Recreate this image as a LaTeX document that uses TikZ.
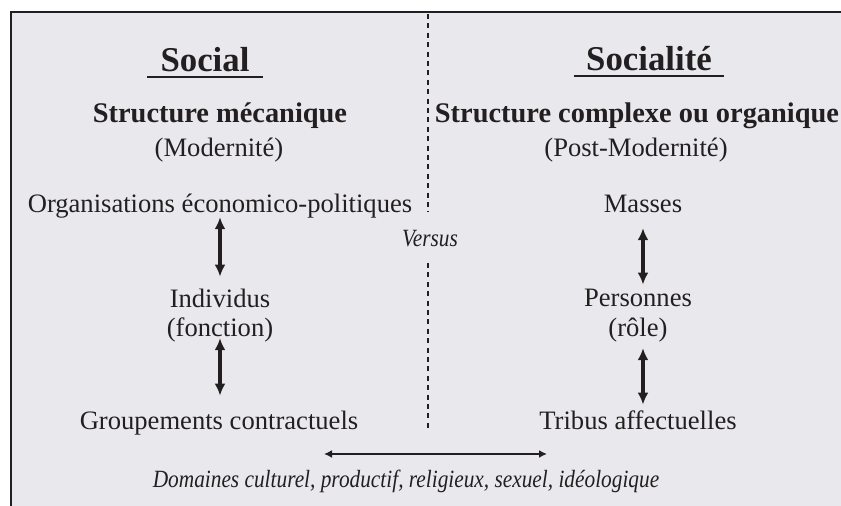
\documentclass[tikz,border=0pt]{standalone}
\usepackage{fontspec}
\setmainfont{Liberation Serif}
\newfontface\narrowit{Liberation Serif Italic}[FakeStretch=0.86]
\usetikzlibrary{arrows.meta}

\definecolor{panelgray}{RGB}{233,233,237}
\definecolor{ink}{RGB}{35,31,32}
\tikzset{schema/.style={x=0.5pt,y=0.5pt,text=ink},
  txt/.style={font=\fontsize{13.3}{16}\selectfont,inner sep=0pt,text height=9pt,text depth=2.9pt,anchor=base},
  head/.style={font=\bfseries\fontsize{14.2}{17}\selectfont,inner sep=0pt,anchor=base},
  title/.style={font=\bfseries\fontsize{17.4}{20}\selectfont,inner sep=0pt,anchor=base},
  ital/.style={font=\narrowit\fontsize{12.4}{15}\selectfont,inner sep=0pt,anchor=base},
  link/.style={{Latex[length=6pt,width=5.5pt]}-{Latex[length=6pt,width=5.5pt]},line width=1.6pt,ink},
  divider/.style={ink,line width=0.9pt,dash pattern=on 2.5pt off 2.2pt}}

\begin{document}
\begin{tikzpicture}[schema]
    \useasboundingbox (0,0) rectangle (841,506);
    \fill[panelgray] (11,0) rectangle (841,494);
    \draw[ink,line width=1.1pt] (11,0) -- (11,494) -- (841,494); % left and top border
    % column titles
    \node[title] (social) at (205,434) {Social};
    \node[title] (socialite) at (649,435) {Socialité};
    \draw[ink,line width=0.9pt] ([xshift=-6.5pt,yshift=-2.5pt]social.base west) -- ([xshift=6.5pt,yshift=-2.5pt]social.base east);
    \draw[ink,line width=0.9pt] ([xshift=-6pt,yshift=-2.5pt]socialite.base west) -- ([xshift=6pt,yshift=-2.5pt]socialite.base east);
    \node[head] (mecan) at (220,383) {Structure mécanique};
    \node[txt] (modern) at (219,349) {(Modernité)};
    \node[head] (complexe) at (637,383) {Structure complexe ou organique};
    \node[txt] (postmod) at (636,349) {(Post-Modernité)};
    % left column
    \node[txt] (org) at (220,293) {Organisations économico-politiques};
    \node[txt] (indiv) at (220,198) {Individus};
    \node[txt] (fonc) at (220,169) {(fonction)};
    \node[txt] (group) at (219,76) {Groupements contractuels};
    % right column
    \node[txt] (masses) at (643,293) {Masses};
    \node[txt] (personnes) at (638,199) {Personnes};
    \node[txt] (role) at (638,169) {(rôle)};
    \node[txt] (tribus) at (638,76) {Tribus affectuelles};
    % middle
    \node[ital] (versus) at (430,259) {Versus};
    \draw[divider] (428,492) -- (428,294);
    \draw[divider] (428,243) -- (428,78);
    \node[ital] (domaines) at (406,18) {Domaines culturel, productif, religieux, sexuel, idéologique};
    % arrows
    \draw[link,shorten <=-1pt,shorten >=6.5pt] (org.south) -- (org.south |- indiv.north);
    \draw[link,shorten <=-2.5pt,shorten >=8pt] (fonc.south) -- (fonc.south |- group.north);
    \draw[link,shorten <=4.5pt,shorten >=2pt] (masses.south) -- (masses.south |- personnes.north);
    \draw[link,shorten <=2.5pt,shorten >=3.5pt] (masses.south |- role.south) -- (masses.south |- tribus.north);
    \coordinate (dleft) at (324,52);
    \coordinate (dright) at (547,52);
    \draw[link,line width=1pt,{Latex[length=4pt,width=4pt]}-{Latex[length=4pt,width=4pt]}] (dleft) -- (dright);
\end{tikzpicture}
\end{document}
